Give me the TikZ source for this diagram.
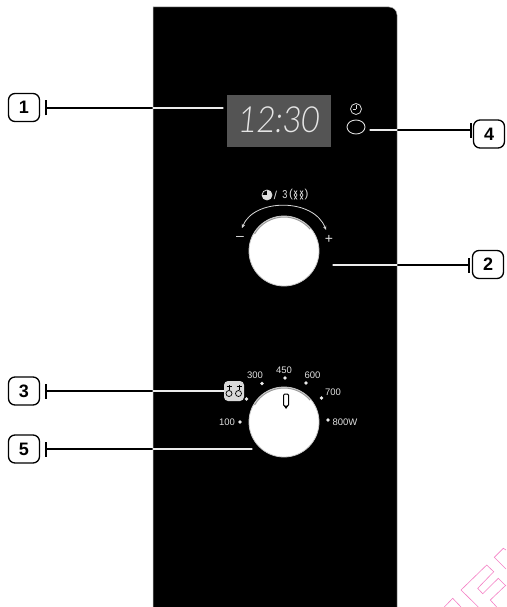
\documentclass[tikz,border=0pt]{standalone}
\usepackage{fontspec}
\setmainfont{Liberation Sans}
\newfontfamily\dispfont[FakeSlant=0.12]{Lato Light}
\usetikzlibrary{arrows.meta,shapes.geometric}
\tikzset{
  x=1pt,y=-1pt,
  numbox/.style={draw=black,line width=1.3pt,rounded corners=6.5pt,minimum width=31pt,minimum height=28pt,inner sep=0pt,font=\fontsize{18}{18}\selectfont\bfseries,text=black},
  leadb/.style={draw=black,line width=1.4pt},
  leadw/.style={draw=white!92!black,line width=1.3pt,line cap=round},
  tickbar/.style={draw=black,line width=1.4pt},
  scalelab/.style={text=white!88!black,font=\fontsize{9.5}{10}\selectfont,inner sep=0pt},
  iconlab/.style={text=white!88!black,font=\fontsize{11.5}{12}\selectfont,inner sep=0pt},
  scaledot/.style={circle,fill=white!92!black,inner sep=0pt,minimum size=3.8pt},
  knob/.style={circle,fill=white,draw=white!80!black,line width=.8pt,minimum size=70pt,inner sep=0pt},
  knobshade/.style={draw=white!60!black,line width=1pt},
  wm/.style={draw=magenta!50!white,line width=.6pt},
  icon/.style={draw=white!85!black,line width=.8pt}
}
\begin{document}
\begin{tikzpicture}
\useasboundingbox (0,0) rectangle (506,607);
\fill[white] (0,0) rectangle (506,607);
% watermark
\draw[wm] (444.3,607) -- (452.7,598.3) -- (461,607);
\draw[wm] (478.3,607) -- (461,590) -- (486.7,565) -- (493.7,571.7) -- (477.7,588.3) -- (482.7,593.7) -- (498.3,578.3) -- (506,586);
\draw[wm] (496.7,607) -- (490.3,600) -- (506,585);
\draw[wm] (506,569) -- (494.3,557.3) -- (503.3,548.3) -- (506,550);
% panel
\fill[black] (153,7) -- (389,7) .. controls (393.5,7) and (397,10.5) .. (397,15) -- (397,607) -- (153,607) -- cycle;
\draw[white!70!black,line width=.5pt] (153,607) -- (153,7) -- (389,7) .. controls (393.5,7) and (397,10.5) .. (397,15) -- (397,607);
% display
\node[fill=white!33!black,minimum width=104pt,minimum height=52pt,inner sep=0pt] (disp) at (279,121) {};
\node[text=white!90!black,font=\dispfont\fontsize{36}{36}\selectfont,inner sep=0pt,xscale=.88,transform shape] (time) at (278,120) {12:30};
% timer button
\node[circle,icon,minimum size=11pt,inner sep=0pt] (clock) at (356,109) {};
\draw[icon,line width=.6pt] (clock.center) -- ++(0,-3.5) (clock.center) -- ++(-3,0);
\node[ellipse,draw=white!85!black,line width=.9pt,minimum width=18pt,minimum height=14pt,inner sep=0pt] (btn) at (356,127) {};
% knob 1
\node[knob] (k1) at (284,251) {};
\draw[knobshade] (k1.center) ++(-150:34) arc[start angle=-150,end angle=-40,radius=34];
\draw[white!85!black,line width=.8pt,{Stealth[length=4pt,width=3.5pt]}-{Stealth[length=4pt,width=3.5pt]}] (242,228) .. controls (254,198) and (314,198) .. (326,230);
\node[text=white!88!black,font=\fontsize{14}{14}\selectfont,inner sep=0pt] (minus) at (240,238) {–};
\node[text=white!88!black,font=\fontsize{14}{14}\selectfont,inner sep=0pt] (plus) at (329,239) {+};
% knob 1 icon row
\draw[icon] (267,195) circle[radius=5];
\fill[white!88!black] (267,195) -- (267,190) arc[start angle=-90,end angle=180,radius=5] -- cycle;
\node[iconlab] (sl) at (275.5,195) {/};
\node[iconlab,xscale=.8,transform shape] (three) at (285,195) {3};
\node[iconlab] (pl) at (291,194.5) {(};
\draw[icon,line width=.7pt] (294,190.5) -- (297,195) -- (294,199.5) (297,190.5) -- (294,195) -- (297,199.5)
  (300,190.5) -- (303,195) -- (300,199.5) (303,190.5) -- (300,195) -- (303,199.5);
\node[iconlab] (pr) at (306.5,194.5) {)};
% knob 2
\node[knob] (k2) at (284,422) {};
\draw[knobshade] (k2.center) ++(-150:34) arc[start angle=-150,end angle=-40,radius=34];
\draw[black,fill=white,line width=1pt,rounded corners=1.2pt] (283.5,394) rectangle (288.5,406);
\fill[black] (284,406) -- (288,406) -- (286,409) -- cycle;
\foreach \nm/\px/\py in {d1/240/422,d2/246.5/399,d3/262/383.5,d4/285/378,d5/306/383,d6/321.5/398,d7/328/420}
  \node[scaledot] (\nm) at (\px,\py) {};
\node[scalelab] (l100) at (227,422) {100};
\node[scalelab] (l300) at (255,375) {300};
\node[scalelab] (l450) at (284,370) {450};
\node[scalelab] (l600) at (312.5,375) {600};
\node[scalelab] (l700) at (333,392) {700};
\node[scalelab] (l800) at (345,422) {800W};
% grill icon
\node[fill=white!85!black,rounded corners=4pt,minimum width=20pt,minimum height=20pt,inner sep=0pt] (grill) at (234,391) {};
\draw[black,line width=.7pt] (229,385) -- (229,390) (239,385) -- (239,390) (226.5,386) -- (231.5,386) (236.5,386) -- (241.5,386);
\draw[black,line width=.7pt] (229,393.5) circle[radius=3] (238.5,393.5) circle[radius=3];
% numbered labels
\node[numbox] (n1) at (24,107.5) {1};
\node[numbox] (n2) at (488,264.5) {2};
\node[numbox] (n3) at (24,391) {3};
\node[numbox] (n4) at (489,134) {4};
\node[numbox] (n5) at (24,449) {5};
% leaders
\coordinate (t1) at (46,108);   \coordinate (e1) at (153,108);  \coordinate (f1) at (223,108);
\coordinate (t2) at (469,265);  \coordinate (e2) at (397,265);  \coordinate (f2) at (333,265);
\coordinate (t3) at (46,391);   \coordinate (e3) at (153,391);  \coordinate (f3) at (grill.west);
\coordinate (t4) at (471,130);  \coordinate (e4) at (397,130);  \coordinate (f4) at (370,130);
\coordinate (t5) at (46,449);   \coordinate (e5) at (153,449);  \coordinate (f5) at (252,449);
\foreach \i in {1,2,3,4,5}{
  \draw[leadb] (t\i) -- (e\i);
  \draw[leadw] (e\i) -- (f\i);
  \draw[tickbar] ([yshift=-7.5pt]t\i) -- ([yshift=7.5pt]t\i);
}
\end{tikzpicture}
\end{document}
